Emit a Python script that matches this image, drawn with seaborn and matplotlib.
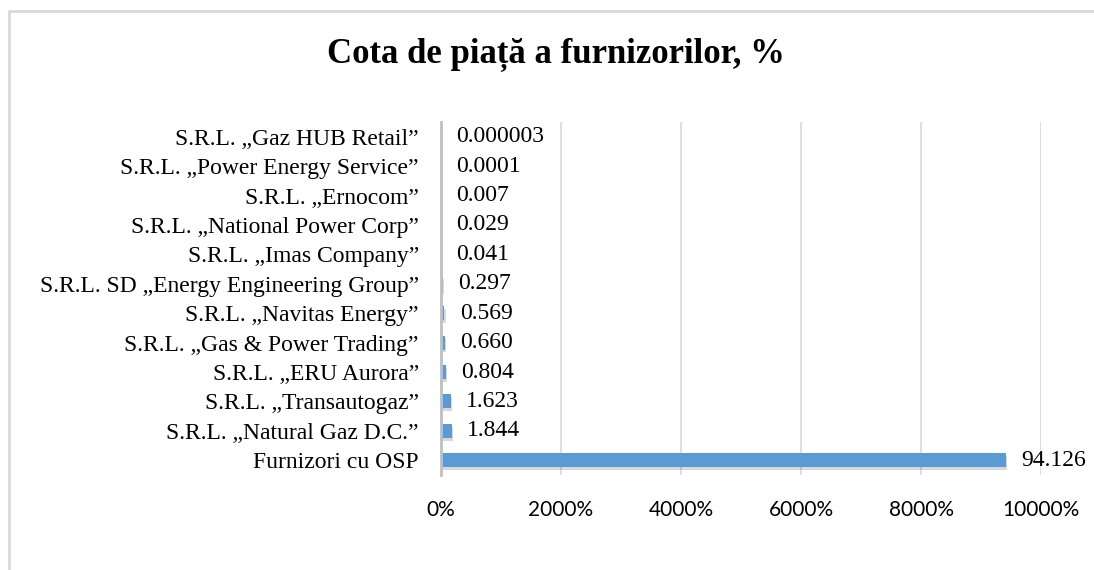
import matplotlib
matplotlib.use("Agg")
import matplotlib.pyplot as plt
import matplotlib.patheffects as pe
from matplotlib.ticker import FuncFormatter, MultipleLocator
from matplotlib.lines import Line2D
import seaborn as sns
import pandas as pd

companies = [
    "S.R.L. „Gaz HUB Retail”",
    "S.R.L. „Power Energy Service”",
    "S.R.L. „Ernocom”",
    "S.R.L. „National Power Corp”",
    "S.R.L. „Imas Company”",
    "S.R.L. SD „Energy Engineering Group”",
    "S.R.L. „Navitas Energy”",
    "S.R.L. „Gas & Power Trading”",
    "S.R.L. „ERU Aurora”",
    "S.R.L. „Transautogaz”",
    "S.R.L. „Natural Gaz D.C.”",
    "Furnizori cu OSP",
]
shares = [0.000003, 0.0001, 0.007, 0.029, 0.041, 0.297, 0.569, 0.660, 0.804, 1.623, 1.844, 94.126]
share_labels = ["0.000003", "0.0001", "0.007", "0.029", "0.041", "0.297",
                "0.569", "0.660", "0.804", "1.623", "1.844", "94.126"]

df = pd.DataFrame({"company": companies, "share": shares})

sns.set_style("white")
plt.rcParams["font.family"] = ["Liberation Serif", "DejaVu Serif"]

fig = plt.figure(figsize=(10.94, 5.70), dpi=100)
ax = fig.add_axes([0.4031, 0.1667, 0.5485, 0.6193])

sns.barplot(data=df, x="share", y="company", orient="h", color="#5B9BD5",
            saturation=1, width=0.48, linewidth=0, ax=ax)

# soft drop shadow like the office chart
for bar in ax.patches:
    bar.set_edgecolor("none")
    bar.set_path_effects([pe.SimplePatchShadow(offset=(0.8, -2), alpha=0.18), pe.Normal()])

ax.bar_label(ax.containers[0], labels=share_labels, padding=11, fontsize=17,
             family="Liberation Serif", color="black")

ax.set_xlim(0, 100)
ax.xaxis.set_major_locator(MultipleLocator(20))
ax.xaxis.set_major_formatter(FuncFormatter(lambda v, p: f"{v * 100:.0f}%"))
ax.grid(axis="x", color="#D9D9D9", linewidth=1.2)
ax.set_axisbelow(True)

for side in ["top", "right", "bottom"]:
    ax.spines[side].set_visible(False)
ax.spines["left"].set_color("#BFBFBF")
ax.spines["left"].set_linewidth(2)

ax.tick_params(axis="y", length=0, pad=16, labelsize=17, labelcolor="black")
ax.tick_params(axis="x", length=0, pad=18, labelsize=15, labelcolor="black")
for lbl in ax.get_xticklabels():
    lbl.set_family(["Lato", "DejaVu Sans"])
ax.set_xlabel("")
ax.set_ylabel("")

fig.text(0.508, 0.905, "Cota de piață a furnizorilor, %", ha="center", va="center",
         fontsize=25, fontweight="bold", family="Liberation Serif", color="black")

# chart frame
fig.add_artist(Line2D([9 / 1094, 1.0], [1 - 11 / 570] * 2, transform=fig.transFigure,
                      color="#D9D9D9", linewidth=2))
fig.add_artist(Line2D([9 / 1094] * 2, [0, 1 - 11 / 570], transform=fig.transFigure,
                      color="#D9D9D9", linewidth=2))

fig.savefig("out.png", dpi=100)
plt.close(fig)
